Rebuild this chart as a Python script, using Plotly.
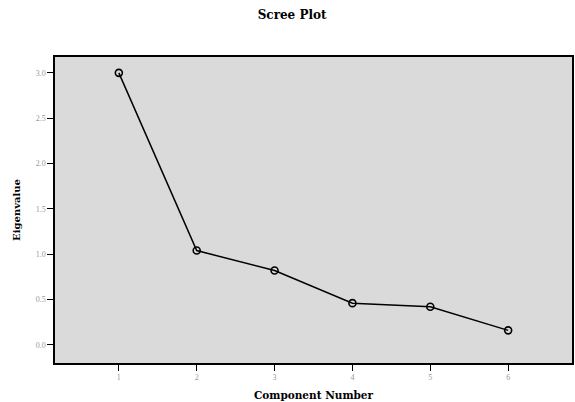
import plotly.graph_objects as go

components = [1, 2, 3, 4, 5, 6]
eigenvalues = [3.00, 1.04, 0.82, 0.46, 0.42, 0.16]
y_ticks = [0.0, 0.5, 1.0, 1.5, 2.0, 2.5, 3.0]
y_tick_labels = ["0.0", "0.5", "1.0", "1.5", "2.0", "2.5", "3.0"]

serif = "Liberation Serif, DejaVu Serif, serif"
title_font = "DejaVu Serif, serif"

fig = go.Figure()
fig.add_trace(go.Scatter(
    x=components, y=eigenvalues, mode="lines+markers",
    line=dict(color="black", width=1.5),
    marker=dict(symbol="circle-open", size=7, color="black", line=dict(width=1.6)),
    showlegend=False,
))

fig.update_layout(
    width=575, height=402,
    margin=dict(l=55, r=1, t=57, b=39),
    paper_bgcolor="white",
    plot_bgcolor="#dadada",
    title=dict(text="<b>Scree Plot</b>", x=0.508, xanchor="center", y=0.962, yanchor="middle",
               font=dict(family=title_font, size=12, color="black")),
    xaxis=dict(
        range=[0.18, 6.82], tickvals=components, ticktext=[str(c) for c in components],
        showgrid=False, zeroline=False,
        showline=True, linecolor="black", linewidth=1.5, mirror=True,
        ticks="outside", ticklen=6, tickcolor="black", tickwidth=1,
        tickfont=dict(family=serif, size=8, color="#999999"),
        title=dict(text="<b>Component Number</b>", standoff=10,
                   font=dict(family=title_font, size=10.5, color="black")),
    ),
    yaxis=dict(
        range=[-0.2, 3.175], tickvals=y_ticks, ticktext=y_tick_labels,
        showgrid=False, zeroline=False,
        showline=True, linecolor="black", linewidth=1.5, mirror=True,
        ticks="outside", ticklen=6, tickcolor="black", tickwidth=1,
        tickfont=dict(family=serif, size=8, color="#999999"),
        title=dict(text="<b>Eigenvalue</b>", standoff=13,
                   font=dict(family=title_font, size=10, color="black")),
    ),
)

fig.write_html(
    "out.html",
    config={"displayModeBar": False},
    post_script="document.body.style.margin='0';document.body.style.overflow='hidden';",
)
